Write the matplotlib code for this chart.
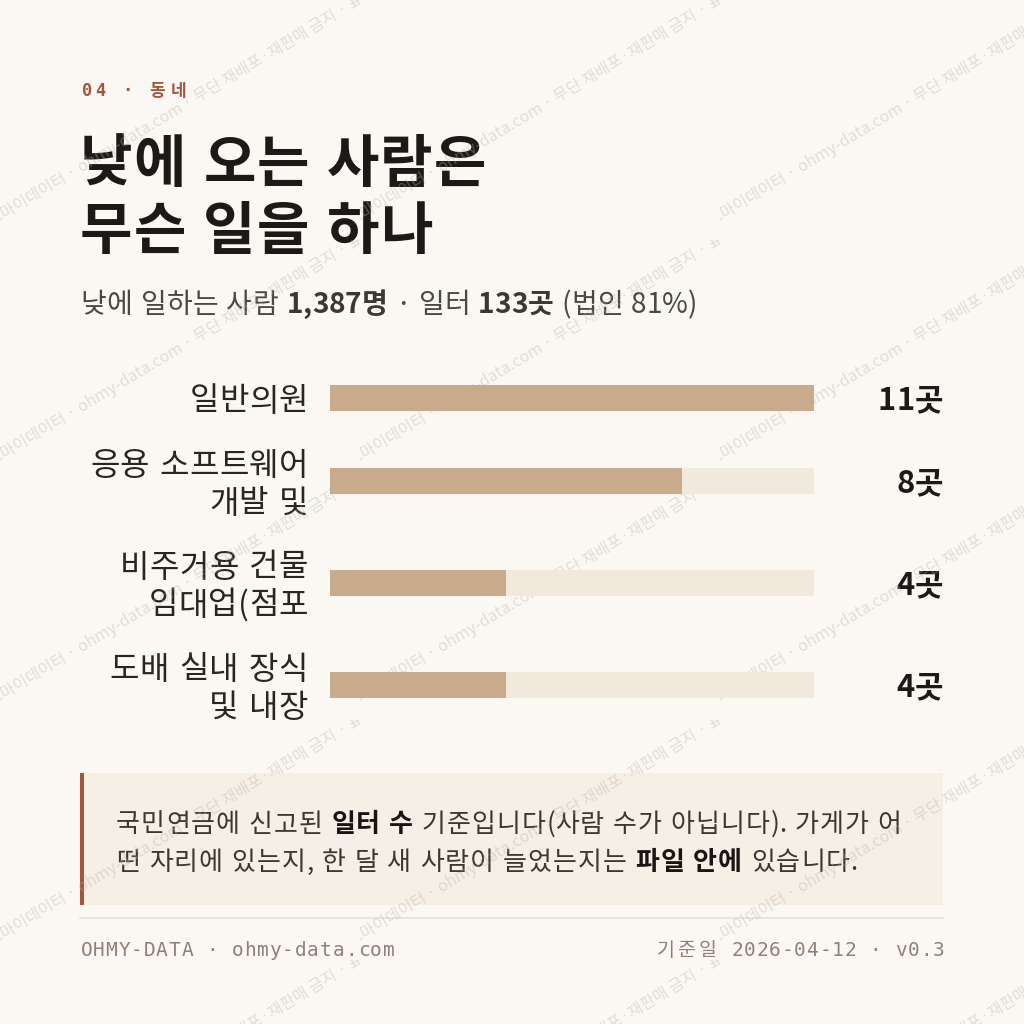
import matplotlib
matplotlib.use("Agg")
import matplotlib.pyplot as plt
from matplotlib.patches import Rectangle

KR = ['Noto Sans CJK KR', 'DejaVu Sans']
MONO = ['DejaVu Sans Mono', 'Noto Sans CJK KR']
plt.rcParams['font.family'] = KR

# 데이터
categories = [["일반의원"],
              ["응용 소프트웨어", "개발 및"],
              ["비주거용 건물", "임대업(점포"],
              ["도배 실내 장식", "및 내장"]]
counts = [11, 8, 4, 4]
value_labels = ["11곳", "8곳", "4곳", "4곳"]

kicker = "04 · 동네"
title_lines = ["낮에 오는 사람은", "무슨 일을 하나"]
subtitle = [("낮에 일하는 사람 ", "normal"), ("1,387명", "bold"), (" · 일터 ", "normal"),
            ("133곳", "bold"), (" (법인 81%)", "normal")]
note_lines = [[("국민연금에 신고된 ", "normal"), ("일터 수", "bold"),
               (" 기준입니다(사람 수가 아닙니다). 가게가 어", "normal")],
              [("떤 자리에 있는지, 한 달 새 사람이 늘었는지는 ", "normal"), ("파일 안에", "bold"),
               (" 있습니다.", "normal")]]
footer_left = "OHMY-DATA · ohmy-data.com"
footer_right = "기준일 2026-04-12 · v0.3"
watermark = "오마이데이터 · ohmy-data.com · 무단 재배포·재판매 금지 · 표부"

BG = '#fbf8f4'
INK = '#1d1916'
RUST = '#a6553d'
FILL = '#c8ab8a'
TRACK = '#f2e9dd'

PT = 0.72  # px -> pt (dpi 100)

fig = plt.figure(figsize=(10.24, 10.24), dpi=100, facecolor=BG)
ax = fig.add_axes([0, 0, 1, 1])
ax.set_xlim(0, 1024)
ax.set_ylim(1024, 0)
ax.axis('off')
renderer = fig.canvas.get_renderer()

_cache = {}


def text_width(s, size, weight):
    # '|' 로 감싸서 공백까지 폭을 잰다
    key = (s, size, weight)
    if key not in _cache:
        a = ax.text(0, 0, '|' + s + '|', fontsize=size, fontweight=weight, family=KR)
        b = ax.text(0, 0, '||', fontsize=size, fontweight=weight, family=KR)
        _cache[key] = a.get_window_extent(renderer).width - b.get_window_extent(renderer).width
        a.remove()
        b.remove()
    return _cache[key]


def is_hangul(ch):
    return 0xAC00 <= ord(ch) <= 0xD7A3


def runs(x, y, parts, px, colors, ha='left', wide=0.0, space=0.08):
    # 한글 글자마다 간격을 조금 더한다
    size = px * PT
    chars = []
    for t, w in parts:
        for ch in t:
            extra = wide * px if is_hangul(ch) else (space * px if ch == ' ' else 0)
            chars.append((ch, w, text_width(ch, size, w) + extra))
    if ha == 'right':
        x = x - sum(c[2] for c in chars) + (wide * px if is_hangul(chars[-1][0]) else 0)
    for ch, w, wd in chars:
        if ch != ' ':
            ax.text(x, y, ch, fontsize=size, fontweight=w, color=colors[w],
                    va='baseline', ha='left', family=KR)
        x += wd


def mono(x, y, s, px, color, weight='normal', pitch=12.6, cjk=22, ha='left'):
    widths = [cjk if ord(ch) > 0x2E80 else pitch for ch in s]
    if ha == 'right':
        x = x - sum(widths)
    for ch, w in zip(s, widths):
        if ch != ' ':
            ax.text(x + w / 2, y, ch, fontsize=px * PT, fontweight=weight, color=color,
                    ha='center', va='baseline', family=MONO)
        x += w


# 머리말
mono(80, 96, kicker, 17, RUST, weight='bold', pitch=13.4, cjk=21)

for i, line in enumerate(title_lines):
    runs(80, 182 + i * 67, [(line, 'bold')], 57, {'bold': INK}, wide=0.02, space=0.06)

runs(80, 313, subtitle, 28, {'normal': '#4d4742', 'bold': '#3d3733'}, wide=0.02, space=0.04)

# 막대
line_h = 38
row_gap = 26
centers = []
y = 398
for i, cat in enumerate(categories):
    if i > 0:
        y += (len(categories[i - 1]) + len(cat)) * line_h / 2 + row_gap
    centers.append(y)

bx = fig.add_axes([330 / 1024, 0, 484 / 1024, 1])
bx.set_xlim(0, max(counts))
bx.set_ylim(1024, 0)
bx.axis('off')
bx.barh(centers, [max(counts)] * len(counts), height=26, color=TRACK, zorder=1)
bx.barh(centers, counts, height=26, color=FILL, zorder=2)

for cat, c, lab in zip(categories, centers, value_labels):
    n = len(cat)
    for j, part in enumerate(cat):
        runs(308, c + 12.5 + (j - (n - 1) / 2) * line_h, [(part, 'normal')], 32,
             {'normal': '#2a2521'}, ha='right', wide=0.01, space=0.1)
    runs(943, c + 12, [(lab, 'bold')], 31, {'bold': INK}, ha='right')

# 설명 상자
ax.add_patch(Rectangle((80, 773), 863, 132, facecolor='#f6efe6', edgecolor='none', zorder=0))
ax.add_patch(Rectangle((80, 773), 3.5, 132, facecolor=RUST, edgecolor='none', zorder=1))
for i, parts in enumerate(note_lines):
    runs(116, 832 + i * 38, parts, 26, {'normal': '#3d3733', 'bold': '#191512'},
         wide=0.04, space=0.08)

ax.plot([80, 943], [918, 918], color='#e7e1d7', lw=1.2)

mono(80, 956, footer_left, 19.5, '#8c8279')
mono(945, 956, footer_right, 19.5, '#8c8279', cjk=21, ha='right')

# 워터마크
for tx in (0, 360, 720):
    for ty in (0, 240, 480, 720, 960):
        clip = Rectangle((tx, ty), 360, 240, transform=ax.transData)
        t = ax.text(tx - 10, ty + 223, watermark, fontsize=16 * PT, color='#b9b0a6',
                    alpha=0.38, rotation=31, rotation_mode='anchor', clip_on=True,
                    ha='left', va='center', family=KR, zorder=10)
        t.set_clip_path(clip)

fig.savefig('out.png', dpi=100, facecolor=BG)
